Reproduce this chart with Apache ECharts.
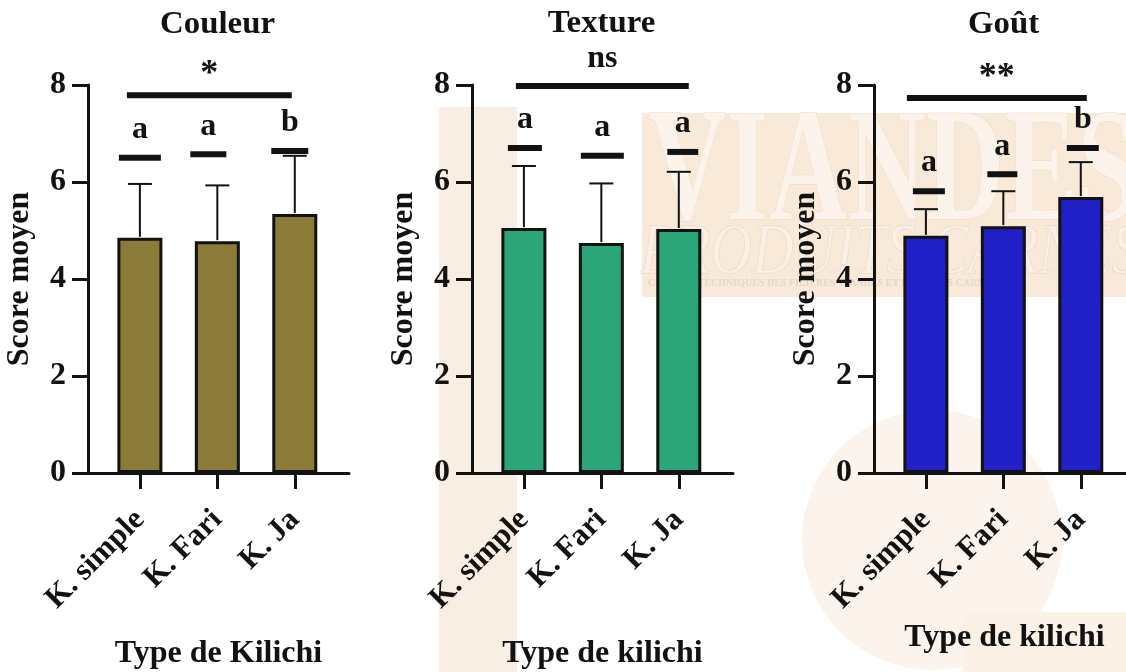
<!DOCTYPE html>
<html>
<head>
<meta charset="utf-8">
<script src="https://cdn.jsdelivr.net/npm/echarts@6/dist/echarts.min.js"></script>
<style>
  html, body { margin: 0; padding: 0; background: #ffffff; }
  #chart { width: 1126px; height: 672px; }
</style>
</head>
<body>
<div id="chart"></div>
<script>
// ---- data ----
const categories = ['K. simple', 'K. Fari', 'K. Ja'];
const panelTitles = ['Couleur', 'Texture', 'Goût'];
const xAxisNames = ['Type de Kilichi', 'Type de kilichi', 'Type de kilichi'];
const yAxisName = 'Score moyen';
const yTickValues = [0, 2, 4, 6, 8];

// mean scores and standard deviations
const couleurMeans = [4.85, 4.78, 5.34];
const couleurSD = [1.11, 1.15, 1.20];
const textureMeans = [5.05, 4.74, 5.03];
const textureSD = [1.28, 1.23, 1.18];
const goutMeans = [4.89, 5.09, 5.69];
const goutSD = [0.55, 0.72, 0.72];

// group letters and the level of the dash drawn under each letter
const couleurLetters = ['a', 'a', 'b'];
const couleurLetterLevels = [6.50, 6.57, 6.64];
const textureLetters = ['a', 'a', 'a'];
const textureLetterLevels = [6.70, 6.54, 6.62];
const goutLetters = ['a', 'a', 'b'];
const goutLetterLevels = [5.81, 6.16, 6.70];

// overall test result per panel and the level of its bar
const significanceLabels = ['*', 'ns', '**'];
const significanceLevels = [7.79, 7.98, 7.73];

// ---- layout / style ----
const FONT = '"Liberation Serif", "Times New Roman", serif';
const INK = '#121212';
const barColors = ['#8b7b38', '#2aa679', '#2020c6'];
const gridLefts = [88, 472, 874];
const GRID_TOP = 85, GRID_H = 388, GRID_W = 261;
const X_MIN = -0.67, X_MAX = 2.7;
// horizontal nudges (px) for the letter dashes: [offset, width]
const dashLayout = [
  [[0, 42], [-9, 36], [-5, 37]],
  [[1, 34], [1, 43], [4, 31]],
  [[3, 32], [-1, 30], [2, 32]]
];
// significance bar span (px from first / last category centre)
const sigSpan = [[-13, -3], [-8, 10], [-19, 6]];
const titleY = [25, 24, 25];
const xNameGaps = [165, 165, 141];

const panels = [
  { means: couleurMeans, sd: couleurSD, letters: couleurLetters, levels: couleurLetterLevels },
  { means: textureMeans, sd: textureSD, letters: textureLetters, levels: textureLetterLevels },
  { means: goutMeans, sd: goutSD, letters: goutLetters, levels: goutLetterLevels }
];

const boldText = (size) => ({ fontFamily: FONT, fontWeight: 'bold', fontSize: size, color: INK });

const grid = [], xAxis = [], yAxis = [], series = [], graphic = [];

// faint background watermark
graphic.push(
  { type: 'rect', z: -5, shape: { x: 439, y: 107, width: 78, height: 565 }, style: { fill: '#f8eee4' } },
  { type: 'rect', z: -5, shape: { x: 642, y: 113, width: 484, height: 184 }, style: { fill: '#f8e9d9' } },
  { type: 'circle', z: -5, shape: { cx: 932, cy: 540, r: 130 }, style: { fill: '#fbf3ec' } },
  { type: 'rect', z: -5, shape: { x: 963, y: 612, width: 163, height: 60 }, style: { fill: '#fbf1e7' } },
  { type: 'text', z: -4, x: 648, y: 98, scaleX: 0.68,
    style: { text: 'VIANDES', fill: '#fcf4ec', stroke: '#f3d6b8', lineWidth: 1, font: 'bold 160px ' + FONT } },
  { type: 'text', z: -4, x: 640, y: 218, scaleX: 0.8,
    style: { text: 'PRODUITS CARNÉS', fill: 'rgba(255,255,255,0.35)', stroke: 'rgba(225,200,180,0.5)', lineWidth: 1, font: 'italic 72px ' + FONT } },
  { type: 'text', z: -4, x: 648, y: 278,
    style: { text: 'CENTRES TECHNIQUES DES FILIÈRES VIANDES ET PRODUITS CARNÉS', fill: 'rgba(190,180,175,0.35)', font: 'bold 10px ' + FONT } }
);

panels.forEach((p, i) => {
  grid.push({
    left: gridLefts[i], top: GRID_TOP, width: GRID_W, height: GRID_H,
    containLabel: false, outerBoundsMode: 'none'
  });

  xAxis.push({
    type: 'value', gridIndex: i, min: X_MIN, max: X_MAX,
    splitLine: { show: false },
    axisLine: { show: true, onZero: false, lineStyle: { color: INK, width: 3 } },
    axisTick: { show: true, customValues: [0, 1, 2], length: 16, lineStyle: { color: INK, width: 3 } },
    axisLabel: {
      customValues: [0, 1, 2], rotate: 45, margin: 42,
      formatter: (v) => categories[Math.round(v)],
      ...boldText(31)
    },
    name: xAxisNames[i], nameLocation: 'middle', nameGap: xNameGaps[i],
    nameTextStyle: boldText(32)
  });

  yAxis.push({
    type: 'value', gridIndex: i, min: 0, max: 8, interval: 2,
    splitLine: { show: false },
    axisLine: { show: true, onZero: false, lineStyle: { color: INK, width: 3 } },
    axisTick: { show: true, length: 16, lineStyle: { color: INK, width: 3 } },
    axisLabel: { margin: 22, ...boldText(32), formatter: (v) => yTickValues.includes(v) ? String(v) : '' },
    name: yAxisName, nameLocation: 'middle', nameRotate: 90, nameGap: 52,
    nameTextStyle: boldText(32)
  });

  // bars
  series.push({
    type: 'bar', xAxisIndex: i, yAxisIndex: i, barWidth: 45,
    data: p.means.map((m, k) => [k, m]),
    itemStyle: { color: barColors[i], borderColor: INK, borderWidth: 3 },
    z: 2
  });

  // upper error bars
  series.push({
    type: 'custom', xAxisIndex: i, yAxisIndex: i, z: 3,
    data: p.means.map((m, k) => [k, m, p.sd[k]]),
    renderItem: (params, api) => {
      const x = api.value(0), m = api.value(1), s = api.value(2);
      const base = api.coord([x, m]);
      const top = api.coord([x, m + s]);
      const st = { stroke: INK, lineWidth: 2 };
      return {
        type: 'group', children: [
          { type: 'line', shape: { x1: base[0], y1: base[1] - 1, x2: top[0], y2: top[1] }, style: st },
          { type: 'line', shape: { x1: top[0] - 12, y1: top[1], x2: top[0] + 12, y2: top[1] }, style: st }
        ]
      };
    }
  });

  // group letters with their dashes
  series.push({
    type: 'custom', xAxisIndex: i, yAxisIndex: i, z: 4,
    data: p.levels.map((lv, k) => [k, lv]),
    renderItem: (params, api) => {
      const k = api.value(0);
      const pt = api.coord([k, api.value(1)]);
      const [off, w] = dashLayout[i][k];
      const cx = pt[0] + off;
      return {
        type: 'group', children: [
          { type: 'rect', shape: { x: cx - w / 2, y: pt[1] - 3, width: w, height: 6 }, style: { fill: INK } },
          { type: 'text', x: cx, y: pt[1] - 28, style: { text: p.letters[k], fill: INK, font: 'bold 32px ' + FONT, align: 'center', verticalAlign: 'middle' } }
        ]
      };
    }
  });

  // overall significance bar
  series.push({
    type: 'custom', xAxisIndex: i, yAxisIndex: i, z: 4,
    data: [[0, significanceLevels[i]]],
    renderItem: (params, api) => {
      const lv = api.value(1);
      const a = api.coord([0, lv]);
      const b = api.coord([2, lv]);
      const x1 = a[0] + sigSpan[i][0], x2 = b[0] + sigSpan[i][1];
      const isStar = significanceLabels[i].indexOf('*') >= 0;
      return {
        type: 'group', children: [
          { type: 'rect', shape: { x: x1, y: a[1] - 3, width: x2 - x1, height: 6 }, style: { fill: INK } },
          { type: 'text', x: (x1 + x2) / 2, y: a[1] - (isStar ? 20 : 27), style: { text: significanceLabels[i], fill: INK, font: 'bold ' + (isStar ? 36 : 32) + 'px ' + FONT, align: 'center', verticalAlign: 'middle' } }
        ]
      };
    }
  });

  // panel title
  graphic.push({
    type: 'text', x: gridLefts[i] + GRID_W / 2 - 1, y: titleY[i], scaleX: 1.06, originX: 0, originY: 0,
    style: { text: panelTitles[i], fill: INK, font: 'bold 31px ' + FONT, align: 'center', verticalAlign: 'middle' }
  });
});

const chart = echarts.init(document.getElementById('chart'), null, { renderer: 'canvas' });
chart.setOption({
  animation: false,
  backgroundColor: '#ffffff',
  grid, xAxis, yAxis, series, graphic
});
</script>
</body>
</html>
